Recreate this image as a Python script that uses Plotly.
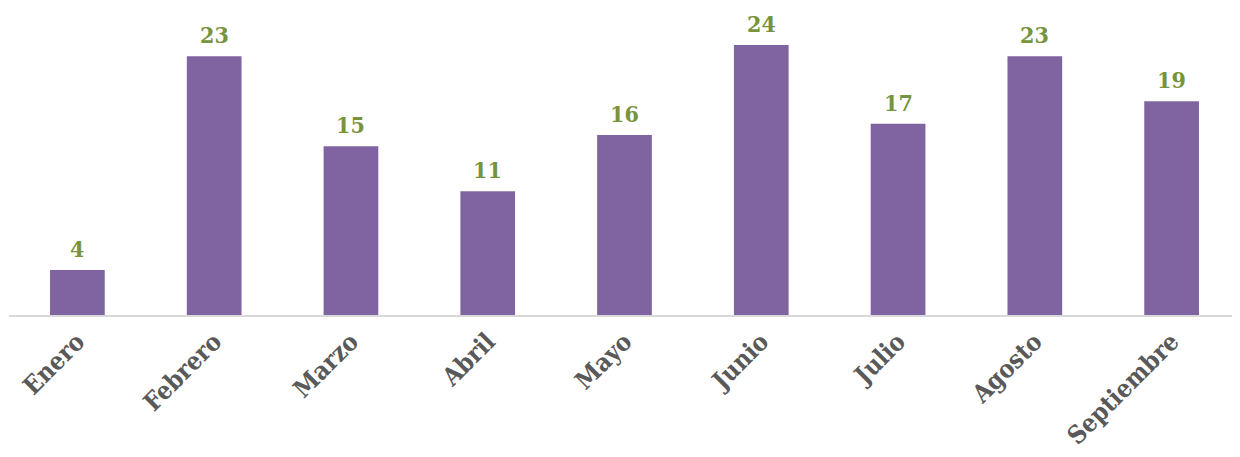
import plotly.graph_objects as go

months = ["Enero", "Febrero", "Marzo", "Abril", "Mayo", "Junio", "Julio", "Agosto", "Septiembre"]
values = [4, 23, 15, 11, 16, 24, 17, 23, 19]

bar_color = "#8064A2"
label_color = "#77933C"
tick_color = "#595959"
font_family = "DejaVu Serif Condensed, DejaVu Serif, serif"

fig = go.Figure(
    go.Bar(
        x=months,
        y=values,
        marker=dict(color=bar_color, line=dict(width=0)),
        width=0.4,
        cliponaxis=False,
    )
)

for m, v in zip(months, values):
    fig.add_annotation(
        x=m, y=v, text=str(v), showarrow=False,
        xanchor="center", yanchor="bottom", yshift=6,
        font=dict(family=font_family, size=23, color=label_color, weight="bold"),
    )

fig.update_layout(
    width=1232,
    height=449,
    margin=dict(l=1, r=0, t=7, b=142, autoexpand=False),
    paper_bgcolor="white",
    plot_bgcolor="white",
    showlegend=False,
    xaxis=dict(
        tickangle=-45,
        tickfont=dict(family=font_family, size=25, color=tick_color, weight="bold"),
        showline=True,
        linecolor="#D9D9D9",
        linewidth=2,
        showgrid=False,
        ticks="",
        ticklen=0,
        automargin=False,
    ),
    yaxis=dict(
        range=[0, 26.67],
        visible=False,
        showgrid=False,
        zeroline=False,
        automargin=False,
    ),
)

fig.write_html("out.html")
